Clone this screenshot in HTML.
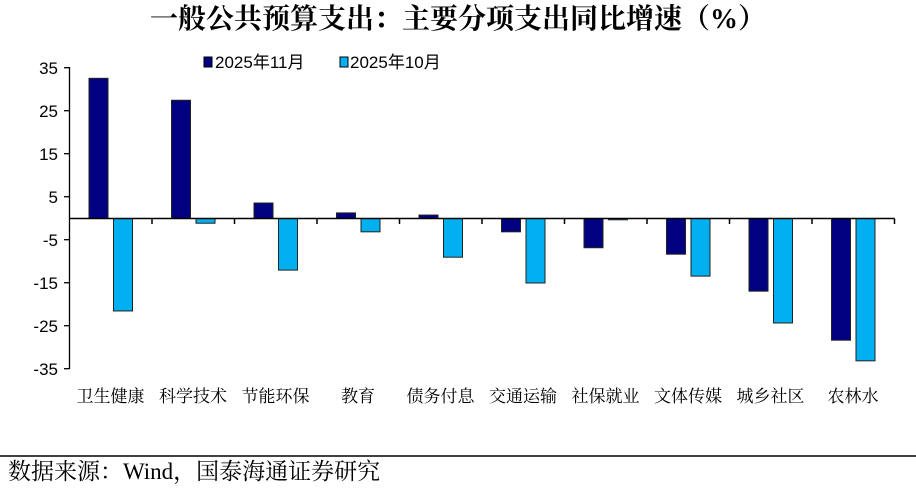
<!DOCTYPE html>
<html><head><meta charset="utf-8"><style>
body{margin:0;background:#fff;width:916px;height:488px;overflow:hidden}
</style></head><body>
<svg width="916" height="488" xmlns="http://www.w3.org/2000/svg">
<text x="458" y="28" text-anchor="middle" font-family="Liberation Serif,'Noto Serif CJK SC',serif" font-weight="bold" font-size="28">一般公共预算支出：主要分项支出同比增速（%）</text>
<g font-family="Liberation Sans,'Noto Sans CJK SC',sans-serif" font-size="17" text-anchor="end">
<text x="58" y="74">35</text><text x="58" y="117">25</text><text x="58" y="160">15</text><text x="58" y="203">5</text>
<text x="58" y="246">-5</text><text x="58" y="289">-15</text><text x="58" y="332">-25</text><text x="58" y="375">-35</text>
</g>
<g stroke="#000" stroke-width="1.3">
<line x1="69.5" y1="67" x2="69.5" y2="369"/>
<line x1="64" y1="67.7" x2="69.5" y2="67.7"/><line x1="64" y1="110.7" x2="69.5" y2="110.7"/><line x1="64" y1="153.7" x2="69.5" y2="153.7"/><line x1="64" y1="196.7" x2="69.5" y2="196.7"/><line x1="64" y1="239.7" x2="69.5" y2="239.7"/><line x1="64" y1="282.7" x2="69.5" y2="282.7"/><line x1="64" y1="325.7" x2="69.5" y2="325.7"/><line x1="64" y1="368.7" x2="69.5" y2="368.7"/>
</g>
<g id="bars" stroke="#222" stroke-width="1"></g>
<g stroke="#000" stroke-width="1.5" id="axis"><line x1="69.5" y1="218.5" x2="894.5" y2="218.5"/></g>
<g font-family="Liberation Serif,'Noto Serif CJK SC',serif" font-size="17" text-anchor="middle" id="labels"></g>
<rect x="204" y="57" width="8" height="10" fill="#000080" stroke="#000"/>
<text x="215" y="68" font-family="Liberation Sans,'Noto Sans CJK SC',sans-serif" font-size="17">2025年11月</text>
<rect x="340" y="57" width="8" height="10" fill="#00b0f0" stroke="#000"/>
<text x="350" y="68" font-family="Liberation Sans,'Noto Sans CJK SC',sans-serif" font-size="17">2025年10月</text>
<line x1="0" y1="456" x2="916" y2="456" stroke="#000" stroke-width="1.5"/>
<text x="8" y="479" font-family="Liberation Serif,'Noto Serif CJK SC',serif" font-size="23">数据来源：Wind，国泰海通证券研究</text>
</svg>
<script>
var cats=["卫生健康","科学技术","节能环保","教育","债务付息","交通运输","社保就业","文体传媒","城乡社区","农林水"];
var a=[32.6,27.5,3.6,1.3,0.8,-3.1,-6.8,-8.3,-16.9,-28.3];
var b=[-21.5,-1.1,-12,-3.1,-9,-15,-0.3,-13.4,-24.3,-33.1];
var g=document.getElementById('bars'),L=document.getElementById('labels'),ax=document.getElementById('axis');
var ns="http://www.w3.org/2000/svg",z=218.5,k=4.3;
function r(x,v,c){var e=document.createElementNS(ns,'rect');var y=v>0?z-v*k:z;e.setAttribute('x',x);e.setAttribute('y',y);e.setAttribute('width',19);e.setAttribute('height',Math.abs(v)*k);e.setAttribute('fill',c);g.appendChild(e);}
for(var i=0;i<10;i++){var x0=69.5+i*82.5;r(x0+19.5,a[i],'#000080');r(x0+44,b[i],'#00b0f0');
var t=document.createElementNS(ns,'text');t.setAttribute('x',x0+41);t.setAttribute('y',402);t.textContent=cats[i];L.appendChild(t);
var l=document.createElementNS(ns,'line');l.setAttribute('x1',x0+82.5);l.setAttribute('x2',x0+82.5);l.setAttribute('y1',218.5);l.setAttribute('y2',224);ax.appendChild(l);}
</script>
</body></html>
